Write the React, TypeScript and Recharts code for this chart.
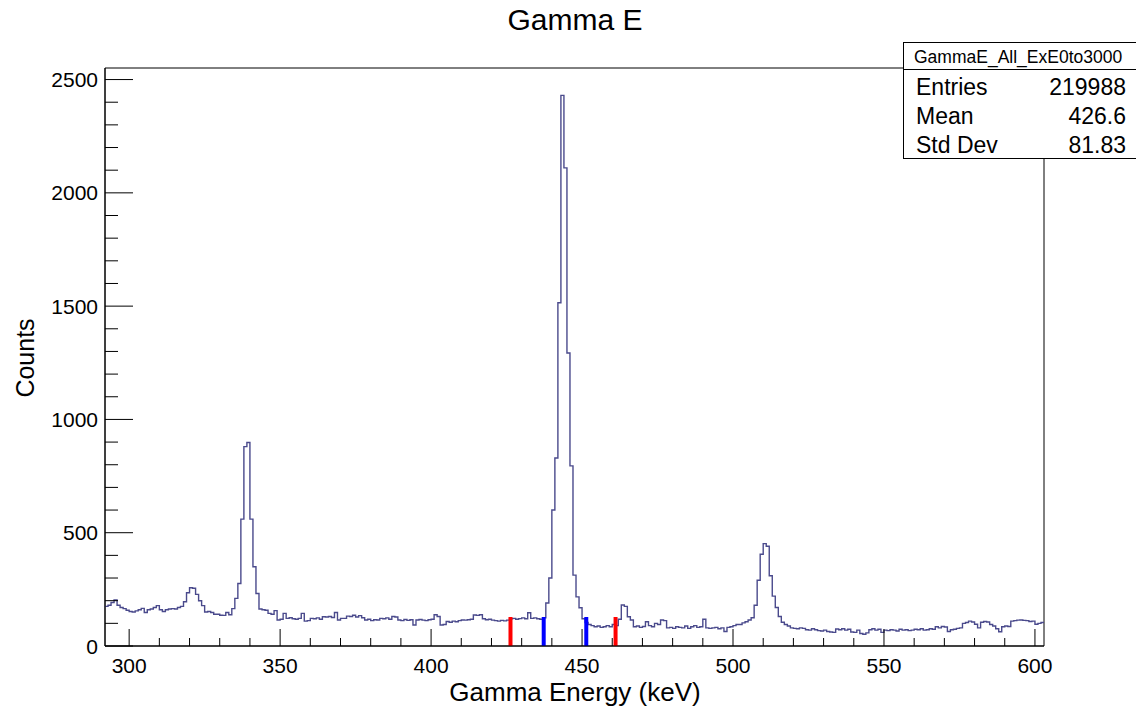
import {
  ComposedChart,
  Line,
  XAxis,
  YAxis,
  ReferenceLine,
  ReferenceArea,
} from "recharts";

// 1 keV bins starting at 292 keV
const binStart = 292;
const counts292 = [175, 180, 192, 203, 180, 170, 165, 158, 152, 150];
const counts302 = [155, 160, 166, 148, 160, 163, 170, 178, 160, 152];
const counts312 = [160, 163, 165, 163, 170, 175, 195, 235, 257, 255];
const counts322 = [228, 200, 178, 150, 152, 148, 140, 140, 136, 135];
const counts332 = [148, 138, 165, 210, 276, 560, 880, 898, 560, 350];
const counts342 = [232, 163, 160, 158, 144, 140, 156, 115, 118, 144];
const counts352 = [122, 125, 120, 118, 122, 144, 110, 112, 122, 120];
const counts362 = [124, 118, 129, 128, 130, 126, 148, 115, 122, 122];
const counts372 = [132, 130, 136, 128, 134, 125, 115, 118, 112, 116];
const counts382 = [115, 122, 120, 124, 118, 130, 128, 115, 112, 117];
const counts392 = [113, 116, 93, 115, 117, 114, 112, 116, 118, 138];
const counts402 = [130, 93, 95, 108, 105, 110, 107, 112, 115, 114];
const counts412 = [116, 118, 137, 135, 138, 120, 116, 118, 114, 112];
const counts422 = [110, 113, 111, 114, 120, 122, 118, 121, 124, 120];
const counts432 = [147, 122, 124, 120, 118, 125, 190, 300, 600, 830];
const counts442 = [1515, 2430, 2110, 1293, 795, 313, 217, 169, 120, 104];
const counts452 = [95, 90, 85, 88, 82, 85, 90, 85, 95, 90];
const counts462 = [118, 181, 175, 129, 115, 85, 88, 82, 86, 107];
const counts472 = [90, 85, 100, 95, 115, 112, 80, 82, 78, 85];
const counts482 = [82, 80, 88, 78, 85, 90, 82, 85, 118, 80];
const counts492 = [78, 80, 82, 76, 80, 64, 82, 85, 90, 95];
const counts502 = [95, 102, 107, 115, 125, 180, 290, 405, 452, 440];
const counts512 = [310, 220, 170, 130, 105, 95, 88, 80, 78, 76];
const counts522 = [80, 78, 72, 70, 76, 72, 68, 66, 70, 64];
const counts532 = [62, 60, 75, 72, 76, 70, 74, 62, 60, 70];
const counts542 = [55, 52, 58, 72, 76, 70, 74, 60, 70, 68];
const counts552 = [72, 70, 66, 74, 70, 72, 68, 70, 74, 72];
const counts562 = [76, 70, 72, 76, 74, 85, 80, 86, 84, 64];
const counts572 = [72, 74, 78, 80, 100, 104, 110, 106, 96, 80];
const counts582 = [105, 108, 106, 95, 88, 76, 63, 85, 88, 86];
const counts592 = [110, 112, 114, 115, 113, 112, 108, 110, 96, 100];
const counts602 = [104];

const counts = [
  ...counts292, ...counts302, ...counts312, ...counts322, ...counts332,
  ...counts342, ...counts352, ...counts362, ...counts372, ...counts382,
  ...counts392, ...counts402, ...counts412, ...counts422, ...counts432,
  ...counts442, ...counts452, ...counts462, ...counts472, ...counts482,
  ...counts492, ...counts502, ...counts512, ...counts522, ...counts532,
  ...counts542, ...counts552, ...counts562, ...counts572, ...counts582,
  ...counts592, ...counts602,
];

// gate markers
const markerEnergy = [426.3, 437.3, 451.4, 461.1];
const markerColor = ["#ff0000", "#0000ff", "#0000ff", "#ff0000"];
const markerHeight = [128, 128, 128, 128];

const xTicks = [300, 310, 320, 330, 340, 350, 360, 370, 380, 390, 400, 410, 420, 430, 440, 450, 460, 470, 480, 490, 500, 510, 520, 530, 540, 550, 560, 570, 580, 590, 600];
const yTicks = [0, 100, 200, 300, 400, 500, 600, 700, 800, 900, 1000, 1100, 1200, 1300, 1400, 1500, 1600, 1700, 1800, 1900, 2000, 2100, 2200, 2300, 2400, 2500];

const xMin = 292;
const xMax = 603;
const yMax = 2551;

const statsLabels = ["Entries", "Mean", "Std Dev"];
const statsValues = ["219988", "426.6", "81.83"];

const font = "'Liberation Sans', Arial, Helvetica, sans-serif";
const histColor = "#4a4a8c";

const histData = [
  ...counts.map((c, i) => ({ e: binStart + i, c })),
  { e: xMax, c: counts[counts.length - 1] },
];

const XTick = (props: any) => {
  const { x, y, payload } = props;
  const major = payload.value % 50 === 0;
  return (
    <g>
      <line x1={x} x2={x} y1={y} y2={y - (major ? 17 : 8)} stroke="#000" strokeWidth={1} />
      {major && (
        <text x={x} y={y + 27} textAnchor="middle" fontSize={21} fontFamily={font} fill="#000">
          {payload.value}
        </text>
      )}
    </g>
  );
};

const YTick = (props: any) => {
  const { x, y, payload } = props;
  const major = payload.value % 500 === 0;
  return (
    <g>
      <line x1={x} x2={x + (major ? 28 : 13)} y1={y} y2={y} stroke="#000" strokeWidth={1} />
      {major && (
        <text x={x - 7} y={y + 7.5} textAnchor="end" fontSize={21} fontFamily={font} fill="#000">
          {payload.value}
        </text>
      )}
    </g>
  );
};

const App = () => {
  return (
    <div style={{ position: "absolute", left: 0, top: 0, width: 1136, height: 709, background: "#fff", fontFamily: font }}>
      <ComposedChart
        width={1136}
        height={709}
        data={histData}
        margin={{ top: 68, right: 92, left: 45, bottom: 23 }}
      >
        <XAxis
          dataKey="e"
          type="number"
          domain={[xMin, xMax]}
          ticks={xTicks}
          tick={<XTick />}
          tickLine={false}
          tickSize={0}
          tickMargin={0}
          interval={0}
          height={40}
          axisLine={{ stroke: "#000" }}
          allowDataOverflow
        />
        <YAxis
          type="number"
          domain={[0, yMax]}
          ticks={yTicks}
          tick={<YTick />}
          tickLine={false}
          tickSize={0}
          tickMargin={0}
          interval={0}
          width={60}
          axisLine={{ stroke: "#000" }}
          allowDataOverflow
        />
        <ReferenceArea x1={xMin} x2={xMax} y1={0} y2={yMax} fill="none" stroke="#000" strokeWidth={1} />
        <Line
          type="stepAfter"
          dataKey="c"
          stroke={histColor}
          strokeWidth={1.4}
          dot={false}
          isAnimationActive={false}
        />
        {markerEnergy.map((e, i) => (
          <ReferenceLine
            key={i}
            segment={[
              { x: e, y: 0 },
              { x: e, y: markerHeight[i] },
            ]}
            stroke={markerColor[i]}
            strokeWidth={4}
          />
        ))}
      </ComposedChart>

      <div style={{ position: "absolute", left: 7, width: 1136, top: 2, textAlign: "center", fontSize: 30, lineHeight: "36px" }}>
        Gamma E
      </div>
      <div style={{ position: "absolute", left: 440, width: 270, top: 676, textAlign: "center", fontSize: 26, lineHeight: "32px" }}>
        Gamma Energy (keV)
      </div>
      <div
        style={{
          position: "absolute",
          left: 25,
          top: 358,
          transform: "translate(-50%, -50%) rotate(-90deg)",
          fontSize: 25,
          lineHeight: "30px",
          whiteSpace: "nowrap",
        }}
      >
        Counts
      </div>

      <div
        style={{
          position: "absolute",
          left: 903,
          top: 42,
          width: 240,
          height: 115,
          border: "1px solid #000",
          background: "#fff",
        }}
      >
        <div style={{ height: 26, borderBottom: "1px solid #000", fontSize: 17.5, lineHeight: "28px", paddingLeft: 10 }}>
          GammaE_All_ExE0to3000
        </div>
        <div style={{ paddingTop: 3 }}>
          {statsLabels.map((label, i) => (
            <div key={label} style={{ position: "relative", height: 29, fontSize: 23, lineHeight: "29px" }}>
              <span style={{ position: "absolute", left: 12 }}>{label}</span>
              <span style={{ position: "absolute", right: 18 }}>{statsValues[i]}</span>
            </div>
          ))}
        </div>
      </div>
    </div>
  );
};

export default App;
